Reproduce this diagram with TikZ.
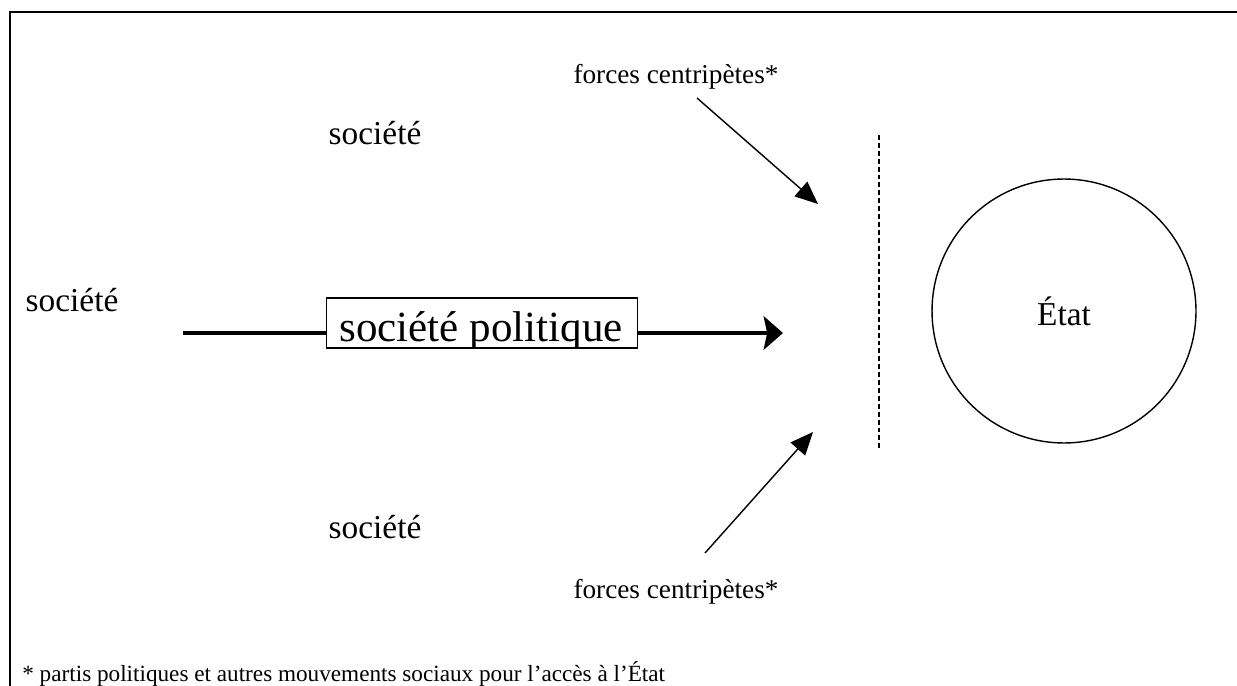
\documentclass[tikz,border=0pt]{standalone}
\usepackage{fontspec}
\setmainfont{Liberation Serif}
\usetikzlibrary{arrows.meta}

\begin{document}
\begin{tikzpicture}[x=0.02cm, y=-0.02cm,
  word/.style={font=\fontsize{19}{23}\selectfont, inner sep=0pt},
  force/.style={font=\fontsize{15.5}{19}\selectfont, inner sep=0pt},
  push/.style={-{Triangle[length=13pt,width=11pt]}, line width=0.8pt},
  mainline/.style={line width=2.4pt}
]
  \useasboundingbox (0,0) rectangle (1237,686);
  % frame
  \draw[line width=1.1pt] (10,700) -- (10,12) -- (1240,12);

  \node[word] (socTop) at (375,133) {société};
  \node[word] (socLeft) at (72,300) {société};
  \node[word] (socBot) at (375,527) {société};
  \node[force] (forceTop) at (676,77) {forces centripètes*};
  \node[force] (forceBot) at (676,592) {forces centripètes*};

  % box of the political society, its text is cut by the frame
  \node[draw, line width=0.8pt, minimum width=6.22cm, minimum height=1cm,
    inner sep=0pt] (polit) at (482,323) {};
  \begin{scope}
    \clip (polit.south west) rectangle (polit.north east);
    \node[anchor=base, font=\fontsize{24.5}{29}\selectfont, inner sep=0pt]
      (politText) at (481,341) {société politique};
  \end{scope}

  \node[draw, circle, line width=0.8pt, minimum size=5.28cm,
    font=\fontsize{19}{23}\selectfont] (etat) at (1064,311) {État};

  \coordinate (mainTail) at (183,333);
  \coordinate (mainTip) at (783,333);
  \draw[mainline] (mainTail) -- (mainTail -| polit.west);
  \draw[mainline, -{Stealth[length=11pt,width=19pt,inset=2pt]}]
    (mainTail -| polit.east) -- (mainTip);

  \coordinate (topTail) at (697,98);
  \coordinate (topTip) at (818,204);
  \coordinate (botTail) at (705,553);
  \coordinate (botTip) at (813,432);
  \draw[push] (topTail) -- (topTip);
  \draw[push] (botTail) -- (botTip);

  % limit of the state
  \coordinate (limTop) at (879,135);
  \coordinate (limBot) at (879,450);
  \draw[line width=0.9pt, dash pattern=on 2.8pt off 1.7pt] (limTop) -- (limBot);

  \node[anchor=base west, font=\fontsize{13.2}{16}\selectfont, inner sep=0pt]
    (note) at (22,681) {* partis politiques et autres mouvements sociaux pour l’accès à l’État};
\end{tikzpicture}
\end{document}
